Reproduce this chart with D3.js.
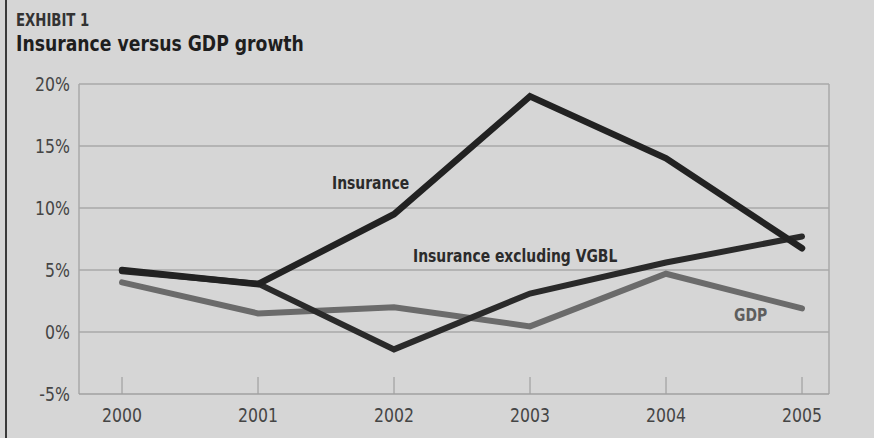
<!DOCTYPE html>
<html>
<head>
<meta charset="utf-8">
<script src="https://cdn.jsdelivr.net/npm/d3@7"></script>
<style>
  html, body { margin: 0; padding: 0; background: #d6d6d6; }
  svg { display: block; }
  .cond { font-family: "Liberation Sans Narrow", "DejaVu Sans Condensed", "Arial Narrow", sans-serif; font-stretch: condensed; }
</style>
</head>
<body>
<svg id="chart" width="874" height="438"></svg>
<script>
const years = [2000, 2001, 2002, 2003, 2004, 2005];
const insurance = [5.0, 3.85, 9.5, 19.0, 14.0, 6.75];
const insuranceExVGBL = [4.9, 3.9, -1.4, 3.1, 5.6, 7.7];
const gdp = [4.0, 1.5, 2.0, 0.45, 4.7, 1.9];
const yTicks = [-5, 0, 5, 10, 15, 20];
const seriesNames = ["Insurance", "Insurance excluding VGBL", "GDP"];

const svg = d3.select("#chart");
const W = 874, H = 438;
const plot = { left: 79, right: 829, top: 84, bottom: 394 };

svg.append("rect").attr("width", W).attr("height", H).attr("fill", "#d6d6d6");
svg.append("line").attr("x1", 6).attr("x2", 6).attr("y1", 0).attr("y2", H)
  .attr("stroke", "#3a3a3a").attr("stroke-width", 2);

const x = d3.scaleLinear().domain([2000, 2005]).range([122, 802]);
const y = d3.scaleLinear().domain([-5, 20]).range([plot.bottom, plot.top]);

svg.append("g").selectAll("line").data(yTicks.filter(d => d > -5)).join("line")
  .attr("x1", plot.left).attr("x2", plot.right)
  .attr("y1", d => y(d)).attr("y2", d => y(d))
  .attr("stroke", "#a9a9a9").attr("stroke-width", 1.5);

svg.append("line").attr("x1", plot.left).attr("x2", plot.left).attr("y1", plot.top).attr("y2", plot.bottom)
  .attr("stroke", "#a9a9a9").attr("stroke-width", 1.5);
svg.append("line").attr("x1", plot.right).attr("x2", plot.right).attr("y1", plot.top).attr("y2", plot.bottom)
  .attr("stroke", "#a9a9a9").attr("stroke-width", 1.5);
svg.append("line").attr("x1", plot.left).attr("x2", plot.right).attr("y1", plot.bottom).attr("y2", plot.bottom)
  .attr("stroke", "#a0a0a0").attr("stroke-width", 1.5);

svg.append("g").selectAll("line").data(years).join("line")
  .attr("x1", d => x(d)).attr("x2", d => x(d))
  .attr("y1", plot.bottom - 17).attr("y2", plot.bottom)
  .attr("stroke", "#a0a0a0").attr("stroke-width", 1.2);

// helper: horizontally compressed text
function ctext(parent, str, px, py, opts) {
  const g = parent.append("g")
    .attr("transform", `translate(${px},${py}) scale(${opts.sx || 1},1)`);
  g.append("text").attr("class", "cond")
    .attr("x", 0).attr("y", 0)
    .attr("dy", opts.dy || null)
    .attr("text-anchor", opts.anchor || "start")
    .attr("font-size", opts.size)
    .attr("font-weight", opts.weight || "normal")
    .attr("fill", opts.fill)
    .text(str);
}

const yl = svg.append("g");
yTicks.forEach(d => ctext(yl, d + "%", 70, y(d), { dy: "0.36em", anchor: "end", size: 19, sx: 0.92, fill: "#454545" }));

const xl = svg.append("g");
years.forEach(d => ctext(xl, d, x(d), 415, { dy: "0.36em", anchor: "middle", size: 19, sx: 0.92, fill: "#454545" }));

const line = d3.line().x((d, i) => x(years[i])).y(d => y(d));

svg.append("path").datum(gdp).attr("d", line)
  .attr("fill", "none").attr("stroke", "#6b6b6b").attr("stroke-width", 6)
  .attr("stroke-linecap", "round").attr("stroke-linejoin", "miter");
svg.append("path").datum(insuranceExVGBL).attr("d", line)
  .attr("fill", "none").attr("stroke", "#2a2a2a").attr("stroke-width", 6)
  .attr("stroke-linecap", "round").attr("stroke-linejoin", "miter");
svg.append("path").datum(insurance).attr("d", line)
  .attr("fill", "none").attr("stroke", "#222222").attr("stroke-width", 6.5)
  .attr("stroke-linecap", "round").attr("stroke-linejoin", "miter");

const lg = svg.append("g");
ctext(lg, seriesNames[0], 332, 189, { size: 18, weight: "bold", sx: 0.86, fill: "#2b2b2b" });
ctext(lg, seriesNames[1], 413, 262, { size: 18, weight: "bold", sx: 0.86, fill: "#2b2b2b" });
ctext(lg, seriesNames[2], 734, 321, { size: 18, weight: "bold", sx: 0.86, fill: "#5e5e5e" });

const tg = svg.append("g");
ctext(tg, "EXHIBIT 1", 16, 26, { size: 18, weight: "bold", sx: 0.82, fill: "#333" });
ctext(tg, "Insurance versus GDP growth", 16, 51, { size: 20.5, weight: "bold", sx: 0.935, fill: "#1e1e1e" });
</script>
</body>
</html>
